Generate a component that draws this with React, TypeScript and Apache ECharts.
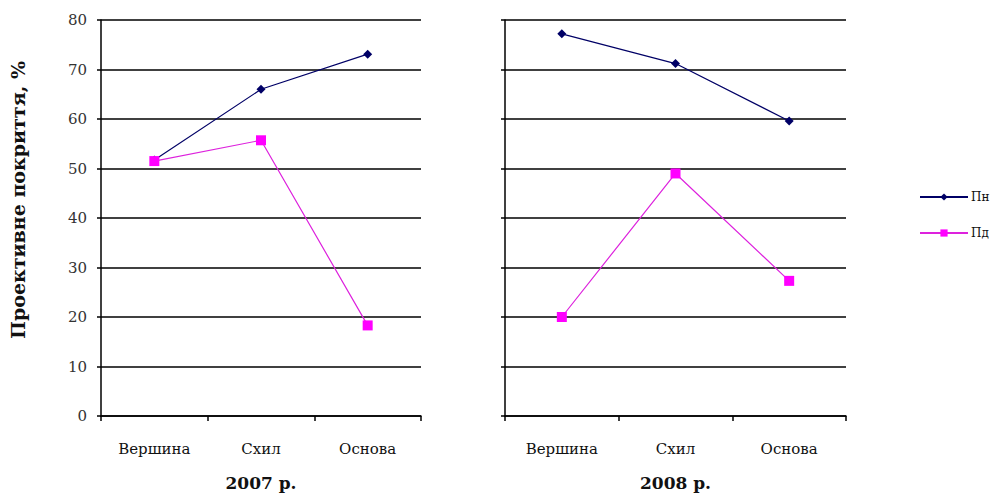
import React, { useEffect, useRef } from "react";
import * as echarts from "echarts";

const categories = ["Вершина", "Схил", "Основа"];
const pn2007 = [51.7, 66.0, 73.1];
const pd2007 = [51.5, 55.7, 18.3];
const pn2008 = [77.2, 71.2, 59.6];
const pd2008 = [20.0, 49.0, 27.3];
const years = ["2007 р.", "2008 р."];
const yTitle = "Проективне покриття, %";

const FONT = "DejaVu Serif";
const PN_COLOR = "#000066";
const PD_COLOR = "#ff00ff";

export default function App() {
  const ref = useRef<HTMLDivElement>(null);
  useEffect(() => {
    if (!ref.current) return;
    const chart = echarts.init(ref.current, null, { renderer: "svg" });
    const xAxisBase = (gi: number) => ({
      type: "category" as const,
      gridIndex: gi,
      data: categories,
      boundaryGap: true,
      axisLine: { lineStyle: { color: "#000", width: 1.5 } },
      axisTick: { show: true, length: 5, lineStyle: { color: "#000", width: 1.5 }, interval: 0 },
      axisLabel: { color: "#111", fontFamily: FONT, fontSize: 15, margin: 25, interval: 0 },
      name: years[gi],
      nameLocation: "middle" as const,
      nameGap: 58,
      nameTextStyle: { color: "#111", fontFamily: FONT, fontSize: 17, fontWeight: "bold" as const },
    });
    const yAxisBase = (gi: number) => ({
      type: "value" as const,
      gridIndex: gi,
      min: 0,
      max: 80,
      interval: 10,
      axisLine: { show: true, lineStyle: { color: "#000", width: 1.5 } },
      axisTick: { show: true, length: 4, lineStyle: { color: "#000", width: 1.5 } },
      axisLabel: { show: gi === 0, color: "#333", fontFamily: FONT, fontSize: 15, margin: 14 },
      splitLine: { show: true, lineStyle: { color: "#000", width: 1.5 } },
    });
    const pnSeries = (gi: number, data: number[]) => ({
      name: "Пн",
      type: "line" as const,
      xAxisIndex: gi,
      yAxisIndex: gi,
      data,
      symbol: "diamond",
      symbolSize: 9,
      itemStyle: { color: PN_COLOR },
      lineStyle: { color: PN_COLOR, width: 1.2 },
    });
    const pdSeries = (gi: number, data: number[]) => ({
      name: "Пд",
      type: "line" as const,
      xAxisIndex: gi,
      yAxisIndex: gi,
      data,
      symbol: "rect",
      symbolSize: 10,
      itemStyle: { color: PD_COLOR },
      lineStyle: { color: "#dd22dd", width: 1.2 },
    });
    chart.setOption({
      animation: false,
      backgroundColor: "#fff",
      grid: [
        { left: 101, top: 20, width: 320, height: 396 },
        { left: 505, top: 20, width: 341, height: 396 },
      ],
      xAxis: [xAxisBase(0), xAxisBase(1)],
      yAxis: [yAxisBase(0), yAxisBase(1)],
      graphic: [
        {
          type: "text",
          x: 18,
          y: 200,
          rotation: Math.PI / 2,
          style: {
            text: yTitle,
            fontFamily: FONT,
            fontSize: 19,
            fontWeight: "bold",
            fill: "#111",
            align: "center",
            verticalAlign: "middle",
          },
        },
      ],
      legend: {
        orient: "vertical",
        left: 919,
        top: 191,
        itemWidth: 48,
        itemHeight: 9,
        itemGap: 24,
        padding: 0,
        data: ["Пн", "Пд"],
        textStyle: { color: "#111", fontFamily: FONT, fontSize: 12, padding: [0, 0, 0, -2] },
      },
      series: [pnSeries(0, pn2007), pdSeries(0, pd2007), pnSeries(1, pn2008), pdSeries(1, pd2008)],
    });
    return () => chart.dispose();
  }, []);
  return (
    <div
      ref={ref}
      style={{ position: "fixed", left: 0, top: 0, width: 995, height: 501, background: "#fff" }}
    />
  );
}
